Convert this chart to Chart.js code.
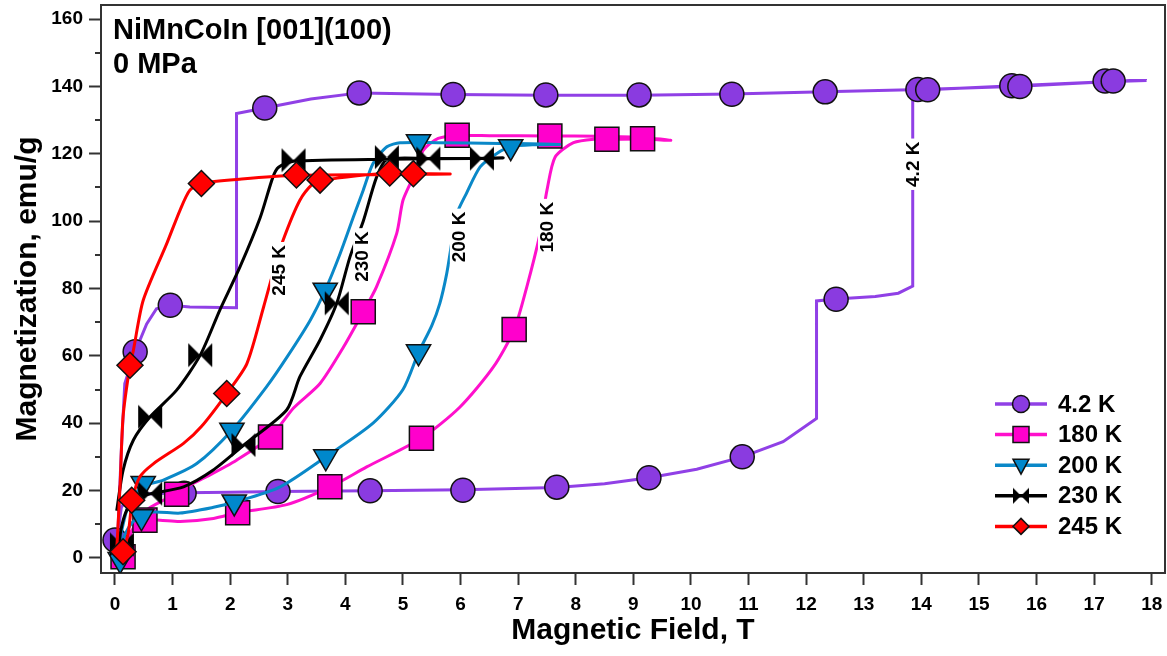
<!DOCTYPE html>
<html>
<head>
<meta charset="utf-8">
<script src="https://cdn.jsdelivr.net/npm/chart.js@4.4.1/dist/chart.umd.min.js"></script>
</head>
<body style="margin:0">
<canvas id="c" width="1167" height="656"></canvas>
<script>
// axis ticks
const fieldTicks = [0, 1, 2, 3, 4, 5, 6, 7, 8, 9, 10, 11, 12, 13, 14, 15, 16, 17, 18];
const magTicks = [0, 20, 40, 60, 80, 100, 120, 140, 160];
const magMinor = [10, 30, 50, 70, 90, 110, 130, 150];

const seriesNames = ['4.2 K', '180 K', '200 K', '230 K', '245 K'];

// 4.2 K : up branch then down branch
const curve42 = [[0, 0], [0.05, 7.3], [0.11, 15], [0.25, 18.3], [0.5, 19], [1.2, 19.3], [2, 19.5], [2.83, 19.7],
  [4.43, 19.9], [6.04, 20.2], [7.67, 20.9], [8.5, 22], [9.27, 23.8], [10.1, 26.3], [10.89, 30], [11.6, 34.5],
  [12.18, 41.4], [12.18, 76.3], [12.52, 76.9], [13.2, 77.6], [13.6, 78.6], [13.85, 80.7], [13.85, 138.7],
  [14.1, 139], [15.6, 140.2], [17.2, 141.4], [17.91, 141.8],
  [17.3, 141.5], [15.7, 140.1], [14.0, 139.1], [12.33, 138.4], [10.71, 137.8], [9.1, 137.4], [7.48, 137.4],
  [5.87, 137.6], [4.24, 138.1], [3.4, 136.3], [2.6, 133.6], [2.11, 132], [2.11, 74.3], [1.3, 74.5],
  [0.96, 75], [0.72, 74], [0.55, 69.5], [0.35, 61.2], [0.17, 51.8], [0.11, 32], [0.05, 7.3], [0.02, 2]];
const marks42 = [[0, 5.3], [0.35, 61.2], [0.96, 75], [1.2, 19.2], [2.6, 133.6], [2.83, 19.7], [4.24, 138.1],
  [4.43, 19.9], [5.87, 137.6], [6.04, 20.1], [7.48, 137.5], [7.67, 21], [9.1, 137.5], [9.27, 23.8],
  [10.71, 137.7], [10.89, 30], [12.33, 138.4], [12.52, 76.8], [13.94, 139.1], [14.11, 139],
  [15.57, 140.2], [15.71, 140], [17.19, 141.6], [17.33, 141.6]];

// 180 K
const curve180 = [[0.1, 0], [0.2, 5], [0.35, 9.5], [0.52, 11.2], [0.78, 11.2], [1.13, 10.8], [1.71, 11.7],
  [2.13, 13.4], [2.98, 15.8], [3.73, 21], [4.37, 27], [5.32, 35.5], [5.99, 44.8], [6.57, 56.7], [6.93, 67.8],
  [7.15, 80.5], [7.38, 96.3], [7.44, 103], [7.5, 109.2], [7.64, 119], [7.96, 123.3], [8.36, 124.4],
  [8.54, 124.3], [9.16, 124.4], [9.65, 124],
  [9.2, 124.8], [8.4, 125.2], [7.55, 125.3], [6.5, 125.4], [5.94, 125.4], [5.61, 124.6], [5.35, 121],
  [5.18, 113.2], [5.0, 106.2], [4.89, 96.3], [4.54, 80.5], [4.31, 73.1], [3.97, 62.7], [3.56, 51.8],
  [3.1, 44.5], [2.7, 35.9], [2.11, 29], [1.59, 24.1], [1.24, 21.1], [1.07, 19], [0.84, 17.1],
  [0.55, 14.2], [0.3, 8], [0.15, 1.5]];
const marks180 = [[0.14, 0.3], [0.52, 11.2], [1.07, 18.9], [2.13, 13.4], [2.7, 35.9], [3.73, 21.1],
  [4.31, 73.1], [5.32, 35.5], [5.94, 125.5], [6.93, 67.8], [7.55, 125.3], [8.54, 124.3], [9.16, 124.5]];

// 200 K
const curve200 = [[0.05, 0], [0.15, 6], [0.3, 10.5], [0.46, 12.3], [0.67, 13.6], [1.13, 13.3], [1.71, 15],
  [2.07, 16.5], [2.86, 21], [3.66, 30], [4.48, 40], [5.0, 50], [5.27, 61], [5.5, 69], [5.64, 75.6],
  [5.76, 84.5], [5.85, 94], [5.93, 102], [6.1, 108.2], [6.34, 116.1], [6.63, 120.1], [6.87, 122.1],
  [7.3, 122.7], [7.72, 122.8],
  [7.2, 123], [6.68, 123.1], [5.6, 123.3], [4.95, 123.3], [4.72, 122.1], [4.48, 117.1], [4.31, 109.2],
  [4.14, 101.3], [3.91, 90.4], [3.65, 79.5], [3.39, 70.6], [3.0, 60], [2.63, 50.8], [2.03, 37.9],
  [1.42, 28], [0.84, 23.1], [0.49, 21.3], [0.26, 17], [0.09, 6], [0.05, 0]];
const marks200 = [[0.09, -0.5], [0.46, 12.2], [0.49, 22.1], [2.03, 37.9], [2.07, 16.6], [3.65, 79.5],
  [3.66, 30], [5.27, 123.6], [5.27, 61.2], [6.87, 122.1]];

// 230 K
const curve230 = [[0.05, 0], [0.1, 8], [0.2, 14], [0.35, 17.5], [0.61, 19], [1.19, 21.1], [1.7, 26],
  [2.23, 33.4], [2.98, 43.9], [3.21, 53.8], [3.56, 64.7], [3.85, 75.6], [4.08, 89.4], [4.31, 100],
  [4.54, 113], [4.72, 118.3], [5.44, 118.6], [6.37, 118.6], [6.74, 118.8],
  [6.2, 118.6], [4.77, 118.4], [3.1, 117.8], [2.84, 116], [2.74, 113], [2.52, 101], [2.17, 86.4],
  [1.82, 73.6], [1.48, 60.2], [1.07, 49.8], [0.61, 41.9], [0.32, 35], [0.14, 26], [0.03, 14]];
const marks230 = [[0.12, 4], [0.61, 19.1], [0.61, 41.9], [1.48, 60.2], [2.23, 33.5], [3.1, 118.1],
  [3.85, 75.6], [4.72, 119], [5.44, 118.6], [6.37, 118.6]];

// 245 K
const curve245 = [[0.05, 0], [0.14, 2], [0.23, 7.3], [0.3, 17], [0.43, 24], [0.67, 28], [1.19, 34],
  [1.5, 39], [1.94, 48.8], [2.29, 57.7], [2.58, 74.5], [2.75, 85], [2.92, 94.4], [3.21, 106.2],
  [3.44, 111.2], [3.56, 112], [4.2, 113.5], [4.77, 114.2], [5.18, 114.1], [5.82, 114],
  [5.3, 113.9], [4.5, 113.8], [3.15, 113.6], [2.2, 112.5], [1.5, 111.2], [1.3, 109.2], [1.13, 103.3],
  [0.9, 93.4], [0.49, 76.5], [0.32, 61.7], [0.26, 57.2], [0.14, 41.9], [0.09, 22.1], [0.03, 2.3]];
const marks245 = [[0.14, 1.8], [0.26, 57.2], [0.29, 17.1], [1.5, 111.2], [1.94, 48.8], [3.15, 113.7],
  [3.56, 112.2], [4.77, 114.3], [5.18, 114.1]];

// labels written along the curves
const curveLabelText = ['245 K', '230 K', '200 K', '180 K', '4.2 K'];
const curveLabelX = [2.85, 4.29, 5.97, 7.5, 13.85];
const curveLabelY = [85.4, 89.5, 95.3, 98.2, 116.9];

const FONT = '"Liberation Sans", Arial, Helvetica, sans-serif';

// bowtie marker (two triangles meeting at the centre)
function bowtie(w, h) {
  const c = document.createElement('canvas');
  c.width = w + 2; c.height = h + 2;
  const g = c.getContext('2d');
  g.fillStyle = '#000';
  g.beginPath();
  g.moveTo(1, 1); g.lineTo(1 + w / 2, 1 + h / 2); g.lineTo(1, 1 + h); g.closePath();
  g.moveTo(1 + w, 1); g.lineTo(1 + w / 2, 1 + h / 2); g.lineTo(1 + w, 1 + h); g.closePath();
  g.fill();
  return c;
}
const bowBig = bowtie(24, 24);
const bowSmall = bowtie(16, 16);

const lineColors = ['#9040E6', '#FF10CC', '#0A88C8', '#000000', '#FF0000'];
const fillColors = ['#8A3BE0', '#FF00CC', '#0088CC', '#000000', '#FF0000'];
const styles = ['circle', 'rect', 'triangle', bowBig, 'rectRot'];
const radii = [12, 17, 14, 12, 13];
const rotations = [0, 0, 180, 0, 0];

const curves = [curve42, curve180, curve200, curve230, curve245];
const marks = [marks42, marks180, marks200, marks230, marks245];
const pts = arr => arr.map(p => ({ x: p[0], y: p[1] }));

const datasets = [];
seriesNames.forEach((name, i) => {
  datasets.push({
    label: name + ' line',
    data: pts(curves[i]),
    showLine: true,
    borderColor: lineColors[i],
    borderWidth: 3,
    pointRadius: 0,
    tension: i === 0 ? 0 : 0.25,
    order: 20 - i * 2
  });
  datasets.push({
    label: name,
    data: pts(marks[i]),
    showLine: false,
    pointStyle: styles[i],
    pointRadius: radii[i],
    pointRotation: rotations[i],
    pointBackgroundColor: fillColors[i],
    pointBorderColor: '#111',
    pointBorderWidth: 1.5,
    order: 19 - i * 2
  });
});

// small legend marker
function legendMark(ctx, i, x, y) {
  ctx.save();
  ctx.fillStyle = fillColors[i];
  ctx.strokeStyle = '#111';
  ctx.lineWidth = 1.5;
  ctx.beginPath();
  if (i === 0) {
    ctx.arc(x, y, 8.5, 0, Math.PI * 2);
  } else if (i === 1) {
    ctx.rect(x - 8, y - 8, 16, 16);
  } else if (i === 2) {
    ctx.moveTo(x - 8, y - 6); ctx.lineTo(x + 8, y - 6); ctx.lineTo(x, y + 9); ctx.closePath();
  } else if (i === 3) {
    ctx.drawImage(bowSmall, x - 9, y - 9);
    ctx.restore();
    return;
  } else {
    ctx.moveTo(x, y - 8); ctx.lineTo(x + 8, y); ctx.lineTo(x, y + 8); ctx.lineTo(x - 8, y); ctx.closePath();
  }
  ctx.fill();
  ctx.stroke();
  ctx.restore();
}

const extras = {
  id: 'extras',
  afterDatasetsDraw(chart) {
    const ctx = chart.ctx;
    const xs = chart.scales.x, ys = chart.scales.y;
    const a = chart.chartArea;

    // labels on the curves
    ctx.save();
    ctx.font = 'bold 19px ' + FONT;
    ctx.textAlign = 'center';
    ctx.textBaseline = 'middle';
    curveLabelText.forEach((t, i) => {
      const px = xs.getPixelForValue(curveLabelX[i]);
      const py = ys.getPixelForValue(curveLabelY[i]);
      const w = ctx.measureText(t).width;
      ctx.save();
      ctx.translate(px, py);
      ctx.rotate(-Math.PI / 2);
      ctx.fillStyle = '#fff';
      ctx.fillRect(-w / 2 - 3, -9, w + 6, 18);
      ctx.fillStyle = '#000';
      ctx.fillText(t, 0, 1);
      ctx.restore();
    });
    ctx.restore();

    // title text in the corner
    ctx.save();
    ctx.fillStyle = '#000';
    ctx.font = 'bold 29px ' + FONT;
    ctx.textAlign = 'left';
    ctx.textBaseline = 'alphabetic';
    ctx.fillText('NiMnCoIn [001](100)', 113, 39);
    ctx.fillText('0 MPa', 113, 73);
    ctx.restore();

    // legend
    ctx.save();
    const lx0 = 995, lx1 = 1047, ly0 = 404, dy = 30.6;
    seriesNames.forEach((name, i) => {
      const y = ly0 + i * dy;
      ctx.strokeStyle = lineColors[i];
      ctx.lineWidth = 3.5;
      ctx.beginPath();
      ctx.moveTo(lx0, y); ctx.lineTo(lx1, y);
      ctx.stroke();
      legendMark(ctx, i, (lx0 + lx1) / 2, y);
      ctx.fillStyle = '#000';
      ctx.font = 'bold 24px ' + FONT;
      ctx.textAlign = 'left';
      ctx.textBaseline = 'middle';
      ctx.fillText(name, 1058, y + 1);
    });
    ctx.restore();

    // frame top/right and minor ticks
    ctx.save();
    ctx.strokeStyle = '#333';
    ctx.lineWidth = 2;
    ctx.beginPath();
    ctx.moveTo(a.left, a.top); ctx.lineTo(a.right, a.top); ctx.lineTo(a.right, a.bottom);
    magMinor.forEach(v => {
      const py = Math.round(ys.getPixelForValue(v));
      ctx.moveTo(a.left - 6, py); ctx.lineTo(a.left, py);
    });
    ctx.stroke();
    ctx.restore();
  }
};

new Chart(document.getElementById('c'), {
  type: 'scatter',
  data: { datasets },
  options: {
    responsive: false,
    animation: false,
    events: [],
    layout: { autoPadding: false, padding: { top: 5, right: 2, bottom: 0, left: 0 } },
    plugins: { legend: { display: false }, tooltip: { enabled: false } },
    scales: {
      x: {
        type: 'linear',
        min: -0.243,
        max: 18.23,
        afterBuildTicks: s => { s.ticks = fieldTicks.map(v => ({ value: v })); },
        afterFit: s => { s.height = 83; s.paddingLeft = 0; s.paddingRight = 0; },
        ticks: {
          autoSkip: false, maxRotation: 0, padding: 8, color: '#000',
          font: { family: FONT, size: 19, weight: 'bold' },
          callback: v => String(v)
        },
        grid: { drawOnChartArea: false, drawTicks: true, tickLength: 12, tickWidth: 2, tickColor: '#333' },
        border: { color: '#333', width: 2 },
        title: {
          display: true, text: 'Magnetic Field, T', color: '#000',
          font: { family: FONT, size: 30, weight: 'bold' },
          padding: { top: 7, bottom: 7 }
        }
      },
      y: {
        type: 'linear',
        min: -4.5,
        max: 164.2,
        afterBuildTicks: s => { s.ticks = magTicks.map(v => ({ value: v })); },
        afterFit: s => { s.width = 101; s.paddingTop = 0; s.paddingBottom = 0; },
        ticks: {
          autoSkip: false, padding: 6, color: '#000',
          font: { family: FONT, size: 19, weight: 'bold' },
          callback: v => String(v)
        },
        grid: { drawOnChartArea: false, drawTicks: true, tickLength: 12, tickWidth: 2, tickColor: '#333' },
        border: { color: '#333', width: 2 },
        title: {
          display: true, text: 'Magnetization, emu/g', color: '#000',
          font: { family: FONT, size: 30, weight: 'bold' },
          padding: { top: 10, bottom: 0 }
        }
      }
    }
  },
  plugins: [extras]
});
</script>
</body>
</html>
